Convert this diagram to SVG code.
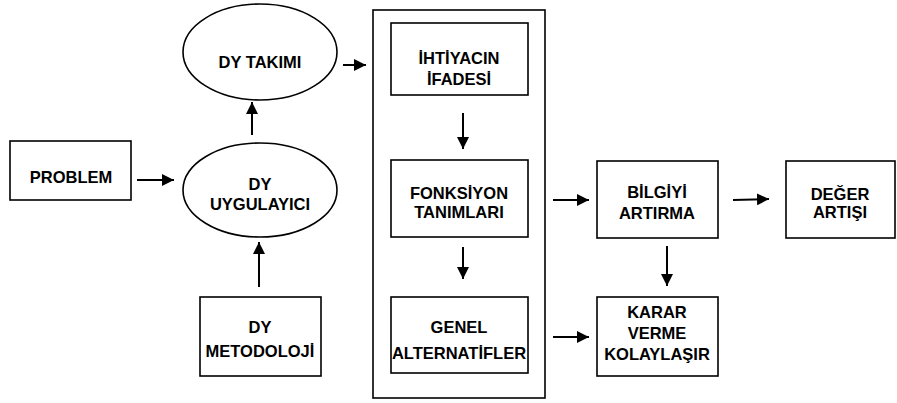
<svg xmlns="http://www.w3.org/2000/svg" width="897" height="403" viewBox="0 0 897 403">
<defs>
<style>
.b{fill:#fff;stroke:#000;stroke-width:1.6}
.t{font-family:"Liberation Sans",Arial,sans-serif;font-weight:bold;font-size:16.5px;text-anchor:middle;fill:#000}
.c line{stroke:#000;stroke-width:2;marker-end:url(#ah)}
</style>
<marker id="ah" markerUnits="userSpaceOnUse" markerWidth="13" markerHeight="12" refX="12" refY="6" orient="auto">
<path d="M0,0 L12,6 L0,12 z" fill="#000"/>
</marker>
</defs>
<rect width="897" height="403" fill="#fff"/>
<g id="container"><rect class="b" x="373" y="10" width="172" height="388"/></g>
<g id="dy-takimi"><ellipse class="b" cx="260" cy="52" rx="77" ry="48"/><text class="t" x="260" y="68">DY TAKIMI</text></g>
<g id="problem"><rect class="b" x="10" y="141" width="121" height="59"/><text class="t" x="71" y="183">PROBLEM</text></g>
<g id="dy-uygulayici"><ellipse class="b" cx="260" cy="190" rx="77" ry="47"/><text class="t" x="260" y="190">DY</text><text class="t" x="260" y="210">UYGULAYICI</text></g>
<g id="dy-metodoloji"><rect class="b" x="200" y="297" width="121" height="79"/><text class="t" x="260" y="333">DY</text><text class="t" x="260" y="357">METODOLOJİ</text></g>
<g id="ihtiyacin"><rect class="b" x="391" y="23" width="137" height="72"/><text class="t" x="459" y="64">İHTİYACIN</text><text class="t" x="459" y="85">İFADESİ</text></g>
<g id="fonksiyon"><rect class="b" x="391" y="160" width="137" height="77"/><text class="t" x="459" y="199">FONKSİYON</text><text class="t" x="459" y="218">TANIMLARI</text></g>
<g id="genel"><rect class="b" x="391" y="297" width="137" height="76"/><text class="t" x="459" y="333">GENEL</text><text class="t" x="459" y="359">ALTERNATİFLER</text></g>
<g id="bilgiyi"><rect class="b" x="597" y="161" width="121" height="77"/><text class="t" x="657" y="198">BİLGİYİ</text><text class="t" x="657" y="219">ARTIRMA</text></g>
<g id="deger"><rect class="b" x="786" y="161" width="109" height="77"/><text class="t" x="840" y="200">DEĞER</text><text class="t" x="840" y="218">ARTIŞI</text></g>
<g id="karar"><rect class="b" x="597" y="297" width="121" height="79"/><text class="t" x="657" y="318">KARAR</text><text class="t" x="657" y="339">VERME</text><text class="t" x="657" y="360">KOLAYLAŞIR</text></g>
<g id="connectors" class="c">
<line x1="137" y1="180" x2="174" y2="180"/>
<line x1="252" y1="135" x2="252" y2="102"/>
<line x1="259" y1="287" x2="259" y2="242"/>
<line x1="343" y1="65" x2="366" y2="65"/>
<line x1="463" y1="113" x2="463" y2="149"/>
<line x1="463" y1="247" x2="463" y2="279"/>
<line x1="553" y1="200" x2="589" y2="200"/>
<line x1="553" y1="337" x2="589" y2="337"/>
<line x1="733" y1="200" x2="769" y2="199"/>
<line x1="667" y1="246" x2="667" y2="286"/>
</g>
</svg>
